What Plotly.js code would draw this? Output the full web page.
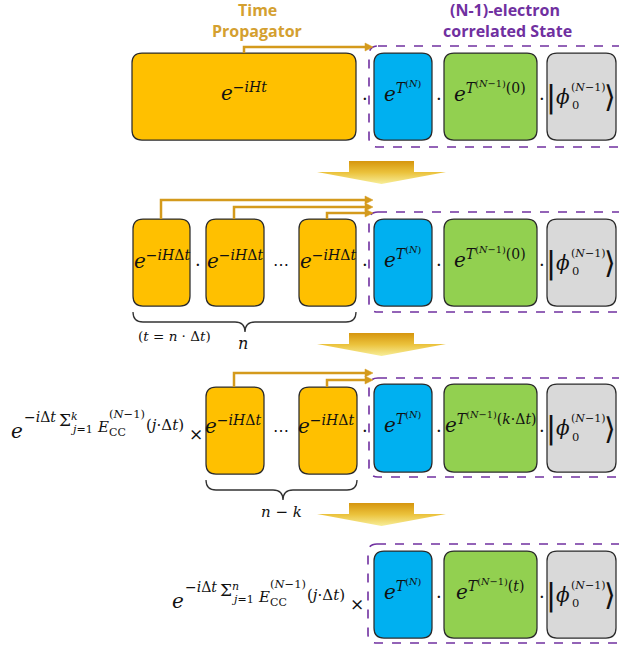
<!DOCTYPE html>
<html>
<head>
<meta charset="utf-8">
<script src="https://cdn.plot.ly/plotly-3.0.1.min.js"></script>
<style>html,body{margin:0;padding:0;background:#fff;}#chart{width:619px;height:650px;}</style>
</head>
<body>
<div id="chart"></div>
<script>
// ---------- text content ----------
const titleProp = ['Time', 'Propagator'];
const titleState = ['(N-1)-electron', 'correlated State'];
const propFull = '<i>e</i><sup>−<i>iHt</i></sup>';
const propStep = '<i>e</i><sup>−<i>iH</i>Δ<i>t</i></sup>';
const eTN = '<i>e</i><sup><i>T</i><sup>(<i>N</i>)</sup></sup>';
const greenArgs = ['(0)', '(0)', '(<i>k</i>·Δ<i>t</i>)', '(<i>t</i>)'];
const sumUpper = ['<i>k</i>', '<i>n</i>'];
const braceLabels = ['(<i>t</i> = <i>n</i> · Δ<i>t</i>)', '<i>n</i>', '<i>n</i> − <i>k</i>'];

// ---------- colours ----------
const C = {orange:'#FFC000', blue:'#00B0F0', green:'#92D050', gray:'#D9D9D9',
  edge:'#2b2b2b', purple:'#7030A0', gold:'#D49A1C', title:'#D4A030'};

// ---------- layout geometry (pixels) ----------
const rows = [
  {y0:53,  y1:140, orange:[[132,356]], cy:96.5},
  {y0:219, y1:306, orange:[[133,190],[206,264],[299,356]], cy:262.5},
  {y0:384, y1:472, orange:[[206,264],[299,357]], oy0:387, oy1:474, cy:428},
  {y0:551, y1:638, orange:[], cy:594.5}
];
const stateCols = {blue:[374,432], green:[444,537], gray:[547,616]};
const dashBoxes = [[369,46,640,147],[369,212,640,312],[369,378,640,477],[368,544,640,643]];
const connectors = [ // [fromX, fromY, levelY]
  [244,53,47],
  [161,219,200],[234,219,207],[327,219,213],
  [234,387,373],[327,387,380]
];
const arrowTipX = 373;
const bigArrows = [[161,172,184],[333,344,356],[503,514,526]];
const braces = [[133,356,312,245],[206,357,480,283]];

function rr(x0,y0,x1,y1,r){
  return `M${x0+r},${y0} H${x1-r} Q${x1},${y0} ${x1},${y0+r} V${y1-r} Q${x1},${y1} ${x1-r},${y1} H${x0+r} Q${x0},${y1} ${x0},${y1-r} V${y0+r} Q${x0},${y0} ${x0+r},${y0} Z`;
}
const shapes = [];
const annotations = [];
const traces = [];

// dashed state boxes
dashBoxes.forEach(b=>shapes.push({type:'path', path:rr(b[0],b[1],b[2],b[3],9), xref:'x', yref:'y',
  line:{color:C.purple, width:1.6, dash:'dash'}, fillcolor:'rgba(0,0,0,0)', layer:'below'}));

function box(x0,y0,x1,y1,fill){
  shapes.push({type:'path', path:rr(x0,y0,x1,y1,10), xref:'x', yref:'y', fillcolor:fill,
    line:{color:C.edge, width:1.25}});
}
rows.forEach(r=>{
  r.orange.forEach(o=>box(o[0], r.oy0||r.y0, o[1], r.oy1||r.y1, C.orange));
  box(stateCols.blue[0], r.y0, stateCols.blue[1], r.y1, C.blue);
  box(stateCols.green[0], r.y0, stateCols.green[1], r.y1, C.green);
  box(stateCols.gray[0], r.y0, stateCols.gray[1], r.y1, C.gray);
});

// connectors
connectors.forEach(c=>{
  shapes.push({type:'path', path:`M${c[0]},${c[1]} V${c[2]} H${arrowTipX-6}`, xref:'x', yref:'y',
    line:{color:C.gold, width:2.5}});
  shapes.push({type:'path', path:`M${arrowTipX-8},${c[2]-4} L${arrowTipX},${c[2]} L${arrowTipX-8},${c[2]+4} Z`,
    xref:'x', yref:'y', fillcolor:C.gold, line:{color:C.gold, width:0.5}});
});

// braces
braces.forEach(b=>{
  const [x0,x1,yt,tx]=b, ym=yt+10, yp=yt+20, r=10;
  shapes.push({type:'path', xref:'x', yref:'y', line:{color:'#333', width:1.3},
    path:`M${x0},${yt} Q${x0},${ym} ${x0+r},${ym} H${tx-r} Q${tx},${ym} ${tx},${yp} Q${tx},${ym} ${tx+r},${ym} H${x1-r} Q${x1},${ym} ${x1},${yt}`});
});

// gradient down arrows
bigArrows.forEach(a=>{
  const [t,n,tip]=a, cx=381.5, bh=32.5, hh=64.5;
  traces.push({type:'scatter', mode:'lines', hoverinfo:'skip', showlegend:false,
    x:[cx-bh,cx+bh,cx+bh,cx+hh,cx,cx-hh,cx-bh,cx-bh],
    y:[t,t,n,n,tip,n,n,t], fill:'toself', line:{width:0, color:'rgba(0,0,0,0)'},
    fillgradient:{type:'vertical', start:tip, stop:t, colorscale:[[0,'#F7EE9A'],[0.5,'#EBC23C'],[1,'#D6960E']]}});
});

// ---------- text ----------
const MF = 'DejaVu Serif';
function A(x,y,text,size,opt){
  annotations.push(Object.assign({x:x, y:y, xref:'x', yref:'y', text:text, showarrow:false,
    font:{family:MF, size:size, color:'#111'}, xanchor:'center', yanchor:'middle'}, opt||{}));
}
// titles
const TF = 'Open Sans';
A(257,10,'<b>'+titleProp[0]+'</b>',16,{font:{family:TF,size:16,color:C.title}});
A(257,31,'<b>'+titleProp[1]+'</b>',16,{font:{family:TF,size:16,color:C.title}});
A(505,10,'<b>'+titleState[0]+'</b>',16,{font:{family:TF,size:16,color:C.purple}});
A(507,31,'<b>'+titleState[1]+'</b>',16,{font:{family:TF,size:16,color:C.purple}});

function ket(cy){
  A(551,cy,'|',30,{font:{family:'DejaVu Sans', size:30, color:'#111'}});
  A(554,cy,'<i>ϕ</i>',20,{xanchor:'left'});
  A(569.5,cy+8.5,'0',11.5,{xanchor:'left'});
  A(569,cy-9.5,'(<i>N</i>−1)',11,{xanchor:'left'});
  A(610,cy,'⟩',30,{font:{family:'DejaVu Sans', size:30, color:'#111'}});
}
rows.forEach((r,i)=>{
  const ty = r.cy - 5;
  if(i===0) A(244,ty,propFull,20);
  else r.orange.forEach(o=>A((o[0]+o[1])/2 - (i===2?2:0), ty+2, propStep, 20));
  A(403,ty,eTN,20);
  A(490,ty,`<i>e</i><sup><i>T</i><sup>(<i>N</i>−1)</sup>${greenArgs[i]}</sup>`,20);
  ket(r.cy);
  // dots
  const dy = r.cy+2;
  if(i<3) A(365,dy,'·',18);
  A(439,dy,'·',18); A(542,dy,'·',18);
});
A(198,264.5,'·',18);
A(281,264.5,'⋯',16);
A(281,430,'⋯',16);

// braces labels
A(174,336,braceLabels[0],13.5);
A(243,343,braceLabels[1],16);
A(281,512,braceLabels[2],15);

// long phase factors
function phase(dx,dy,upper){
  const L={xanchor:'left'};
  A(9+dx,431+dy,'<i>e</i>',20,L);
  A(22+dx,417+dy,'−<i>i</i>Δ<i>t</i>',14,L);
  A(57+dx,420+dy,'Σ',17,L);
  A(69+dx,416+dy,upper,11,L);
  A(68+dx,429+dy,'<i>j</i>=1',11,L);
  A(95+dx,427+dy,'<i>E</i>',15,L);
  A(107+dx,432+dy,'CC',11,L);
  A(107+dx,414+dy,'(<i>N</i>−1)',11.5,L);
  A(144+dx,425+dy,'(<i>j</i>·Δ<i>t</i>)',15,L);
  A(195.5+dx,434+dy,'×',17);
}
phase(0,0,sumUpper[0]);
phase(161,170,sumUpper[1]);

const layout = {width:619, height:650, margin:{l:0,r:0,t:0,b:0},
  paper_bgcolor:'#fff', plot_bgcolor:'#fff', showlegend:false,
  xaxis:{range:[0,619], visible:false, fixedrange:true},
  yaxis:{range:[650,0], visible:false, fixedrange:true},
  shapes:shapes, annotations:annotations};
Plotly.newPlot('chart', traces, layout, {staticPlot:true, displayModeBar:false});
</script>
</body>
</html>
